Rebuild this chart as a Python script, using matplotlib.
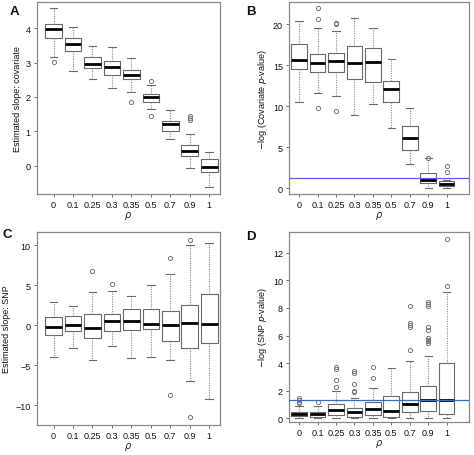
import matplotlib
matplotlib.use("Agg")
import matplotlib.pyplot as plt

plt.rcParams['font.family'] = ['Liberation Sans', 'DejaVu Sans']

rho = ['0', '0.1', '0.25', '0.3', '0.35', '0.5', '0.7', '0.9', '1']

# panel A: estimated slope, covariate
a_lo = [3.16, 2.77, 2.51, 2.27, 2.15, 1.65, 0.78, -0.08, -0.63]
a_q1 = [3.72, 3.33, 2.83, 2.64, 2.51, 1.84, 1.02, 0.29, -0.19]
a_med = [3.97, 3.54, 2.96, 2.86, 2.64, 2.00, 1.20, 0.42, -0.03]
a_q3 = [4.13, 3.71, 3.17, 3.04, 2.80, 2.08, 1.29, 0.60, 0.195]
a_hi = [4.58, 4.03, 3.48, 3.45, 3.13, 2.34, 1.62, 0.91, 0.39]
a_out = [[3.01], [], [], [], [1.85], [2.47, 1.45], [], [1.44, 1.39, 1.32], []]

# panel B: -log covariate p-value
b_lo = [10.5, 11.6, 11.2, 8.9, 10.3, 7.4, 2.9, 0.08, 0.0]
b_q1 = [14.6, 14.2, 14.2, 13.3, 13.0, 10.5, 4.7, 0.58, 0.21]
b_med = [15.7, 15.3, 15.5, 15.3, 15.4, 12.1, 6.1, 1.02, 0.46]
b_q3 = [17.6, 16.4, 16.5, 17.3, 17.1, 13.1, 7.6, 1.8, 0.82]
b_hi = [20.4, 19.6, 19.2, 20.8, 19.5, 15.8, 9.8, 3.65, 1.02]
b_out = [[], [22.0, 20.7, 9.8], [20.0, 20.1, 9.4], [], [], [], [], [3.65], [2.75, 2.0]]

# panel C: estimated slope, SNP
c_lo = [-3.9, -2.78, -4.3, -2.6, -4.07, -4.0, -4.3, -6.9, -9.2]
c_q1 = [-1.2, -0.66, -1.62, -0.66, -0.58, -0.46, -1.95, -2.82, -2.24]
c_med = [-0.25, 0.04, -0.29, 0.54, 0.58, 0.17, 0.0, 0.33, 0.2]
c_q3 = [1.04, 1.12, 1.37, 1.41, 2.07, 2.03, 1.83, 2.49, 3.86]
c_hi = [2.9, 2.45, 4.2, 4.27, 3.7, 5.06, 6.35, 10.0, 10.3]
c_out = [[], [], [6.8], [5.2], [], [], [8.4, -8.7], [10.7, -11.5], []]

# panel D: -log SNP p-value
d_lo = [0.0, 0.0, 0.0, 0.0, 0.0, 0.0, 0.0, 0.05, 0.05]
d_q1 = [0.15, 0.14, 0.22, 0.14, 0.24, 0.12, 0.46, 0.55, 0.29]
d_med = [0.31, 0.29, 0.60, 0.48, 0.67, 0.53, 1.01, 1.35, 1.33]
d_q3 = [0.46, 0.46, 1.01, 0.75, 1.16, 1.62, 1.93, 2.36, 3.98]
d_hi = [0.87, 0.92, 1.98, 1.49, 2.17, 3.62, 4.13, 4.54, 9.17]
d_out = [[1.45, 1.33, 1.2, 1.09], [1.2], [3.74, 3.57, 2.77, 2.29],
         [3.43, 3.3, 2.53, 2.0, 1.88], [3.74, 2.9], [],
         [4.95, 8.16, 6.93, 6.78, 6.59],
         [6.42, 5.82, 5.7, 5.58, 5.46, 8.4, 8.28, 8.16, 6.64],
         [9.56, 12.99]]

sig_line = 1.3


def make_stats(lo, q1, med, q3, hi, out):
    stats = []
    for i in range(len(med)):
        stats.append(dict(whislo=lo[i], q1=q1[i], med=med[i], q3=q3[i],
                          whishi=hi[i], fliers=out[i]))
    return stats


def draw(ax, stats, ylim, yticks, ylabel, xlim, line=None, line_color=None):
    ax.bxp(stats, widths=0.85, patch_artist=False,
           boxprops=dict(color='#6a6a6a', linewidth=0.8),
           whiskerprops=dict(color='#8a8a8a', linewidth=0.8, linestyle=(0, (1, 1.2))),
           capprops=dict(color='#6a6a6a', linewidth=0.8),
           medianprops=dict(color='black', linewidth=2.0),
           flierprops=dict(marker='o', markersize=3, markerfacecolor='none',
                           markeredgecolor='#777777', markeredgewidth=0.7),
           capwidths=0.4)
    if line is not None:
        ax.axhline(line, color=line_color, linewidth=0.9, zorder=3)
    ax.set_xlim(*xlim)
    ax.set_ylim(*ylim)
    ax.set_yticks(yticks)
    ax.set_xticks(range(1, len(rho) + 1))
    ax.set_xticklabels(rho)
    ax.tick_params(labelsize=6.5, length=2.5, width=0.6, colors='#555555',
                   labelcolor='#111111', pad=2)
    for s in ax.spines.values():
        s.set_color('#888888')
        s.set_linewidth(0.9)
    ax.set_xlabel(r'$\rho$', fontsize=7, labelpad=0, color='#222222')
    ax.set_ylabel(ylabel, fontsize=6.5, labelpad=3, color='#111111')


fig = plt.figure(figsize=(4.74, 4.56), dpi=100)
axA = fig.add_axes([0.078, 0.572, 0.386, 0.421])
axB = fig.add_axes([0.610, 0.572, 0.379, 0.421])
axC = fig.add_axes([0.078, 0.066, 0.386, 0.423])
axD = fig.add_axes([0.610, 0.072, 0.379, 0.417])

draw(axA, make_stats(a_lo, a_q1, a_med, a_q3, a_hi, a_out), (-0.83, 4.76),
     [0, 1, 2, 3, 4], 'Estimated slope: covariate', (0.15, 9.55))
draw(axB, make_stats(b_lo, b_q1, b_med, b_q3, b_hi, b_out), (-0.73, 22.7),
     [0, 5, 10, 15, 20], r'$-$log (Covariate $p$-value)', (0.46, 10.2),
     line=sig_line, line_color='#6060d8')
draw(axC, make_stats(c_lo, c_q1, c_med, c_q3, c_hi, c_out), (-12.45, 11.66),
     [-10, -5, 0, 5, 10], 'Estimated slope: SNP', (0.15, 9.55))
draw(axD, make_stats(d_lo, d_q1, d_med, d_q3, d_hi, d_out), (-0.27, 13.5),
     [0, 2, 4, 6, 8, 10, 12], r'$-$log (SNP $p$-value)', (0.46, 10.2),
     line=sig_line, line_color='#3a6ad0')

for letter, x, y in [('A', 0.02, 0.967), ('B', 0.519, 0.967),
                     ('C', 0.006, 0.478), ('D', 0.519, 0.474)]:
    fig.text(x, y, letter, fontsize=9.5, fontweight='bold', color='#111111')

fig.savefig('out.png', dpi=100)
